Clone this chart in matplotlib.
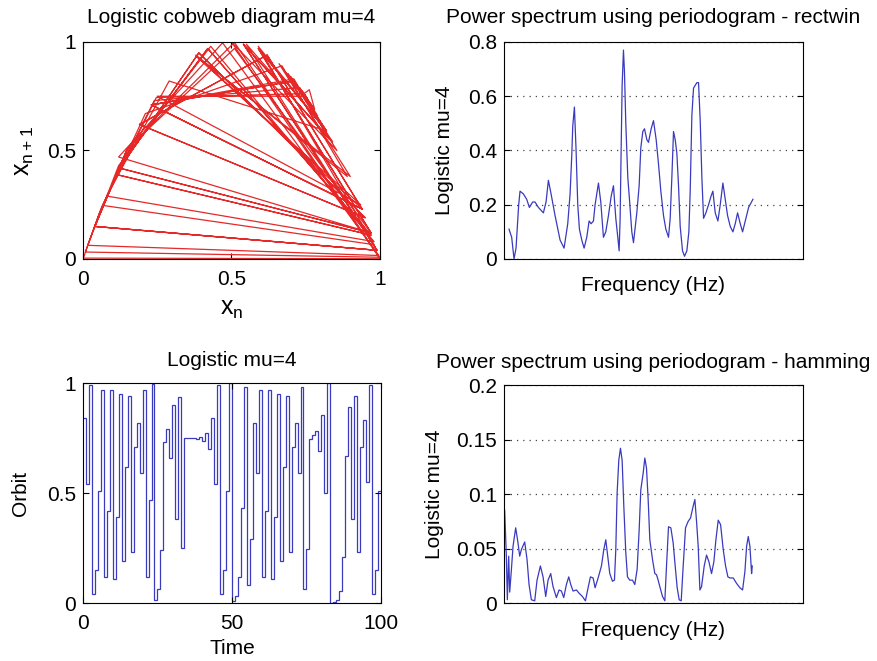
import matplotlib
matplotlib.use('Agg')
import matplotlib.pyplot as plt
import numpy as np

plt.rcParams['font.family'] = ['Liberation Sans', 'DejaVu Sans']
plt.rcParams['font.size'] = 15

# orbit of the logistic map (one value per time step)
orbit = [0.84, 0.54, 0.99, 0.04, 0.15, 0.51, 0.97, 0.12, 0.42, 0.97,
         0.11, 0.39, 0.95, 0.19, 0.62, 0.94, 0.23, 0.71, 0.82, 0.59,
         0.97, 0.12, 0.47, 0.996, 0.016, 0.063, 0.24, 0.73, 0.79, 0.66,
         0.90, 0.38, 0.935, 0.25, 0.750, 0.750, 0.749, 0.751, 0.747, 0.756,
         0.738, 0.774, 0.70, 0.84, 0.54, 0.99, 0.04, 0.15, 0.51, 0.998,
         0.008, 0.032, 0.12, 0.43, 0.98, 0.08, 0.29, 0.82, 0.59, 0.97,
         0.12, 0.42, 0.97, 0.11, 0.39, 0.95, 0.19, 0.62, 0.94, 0.23,
         0.71, 0.82, 0.59, 0.98, 0.066, 0.247, 0.744, 0.762, 0.78, 0.69,
         0.855, 0.50, 1.00, 0.001, 0.004, 0.014, 0.055, 0.21, 0.67, 0.89,
         0.38, 0.94, 0.23, 0.71, 0.83, 0.55, 0.99, 0.04, 0.15, 0.51]
time_edges = np.arange(len(orbit) + 1)

# periodogram, rectangular window (frequency in bins of a 896-bin axis)
nbins = 896
freq_rect = [15, 23, 30, 36, 40, 44, 48, 58, 68, 76, 86, 93, 103, 118, 126, 133,
             141, 153, 168, 180, 191, 198, 203, 206, 211, 216, 221, 226, 233, 240,
             248, 255, 261, 268, 273, 283, 290, 298, 305, 313, 321, 328, 335, 341,
             345, 348, 351, 354, 358, 361, 365, 371, 376, 383, 388, 398, 405, 410,
             416, 421, 428, 433, 441, 448, 456, 463, 470, 478, 485, 493, 498, 503,
             508, 513, 518, 523, 528, 535, 541, 548, 554, 558, 563, 568, 578, 583,
             588, 593, 598, 605, 613, 620, 626, 633, 641, 648, 656, 663, 670, 678,
             686, 693, 700, 708, 715, 723, 733, 746]
pow_rect = [0.11, 0.08, 0.0, 0.04, 0.12, 0.20, 0.25, 0.24, 0.22, 0.19, 0.21, 0.21,
            0.19, 0.17, 0.21, 0.29, 0.24, 0.16, 0.07, 0.04, 0.13, 0.24, 0.38, 0.49,
            0.56, 0.40, 0.20, 0.11, 0.07, 0.04, 0.08, 0.14, 0.13, 0.14, 0.20, 0.28,
            0.21, 0.08, 0.10, 0.16, 0.23, 0.27, 0.15, 0.08, 0.03, 0.15, 0.40, 0.64,
            0.77, 0.69, 0.50, 0.30, 0.22, 0.10, 0.06, 0.17, 0.27, 0.41, 0.47, 0.48,
            0.44, 0.43, 0.48, 0.51, 0.44, 0.35, 0.25, 0.16, 0.11, 0.08, 0.15, 0.30,
            0.47, 0.44, 0.39, 0.27, 0.12, 0.03, 0.01, 0.03, 0.10, 0.25, 0.53, 0.63,
            0.65, 0.65, 0.51, 0.30, 0.15, 0.17, 0.20, 0.23, 0.25, 0.17, 0.14, 0.20,
            0.28, 0.22, 0.16, 0.12, 0.10, 0.13, 0.17, 0.13, 0.10, 0.14, 0.19, 0.22]

# periodogram, hamming window
freq_ham = [2, 7, 10, 14, 17, 22, 27, 35, 42, 47, 52, 62, 69, 75, 82, 92, 99, 109,
            117, 125, 132, 140, 147, 157, 165, 172, 179, 187, 194, 200, 207, 217,
            225, 235, 244, 252, 259, 267, 273, 282, 292, 299, 305, 312, 317, 325,
            331, 335, 339, 344, 349, 354, 359, 365, 370, 377, 385, 392, 399, 405,
            410, 417, 422, 427, 432, 437, 445, 452, 457, 462, 467, 475, 482, 487,
            493, 500, 507, 513, 519, 525, 531, 537, 544, 552, 559, 567, 572, 577,
            582, 587, 592, 600, 607, 614, 622, 629, 635, 642, 649, 657, 664, 671,
            677, 687, 697, 707, 715, 722, 727, 732, 737, 742, 744]
pow_ham = [0.085, 0.043, 0.003, 0.043, 0.010, 0.030, 0.052, 0.069, 0.055, 0.043,
           0.049, 0.056, 0.040, 0.017, 0.003, 0.002, 0.021, 0.034, 0.024, 0.006,
           0.021, 0.027, 0.015, 0.005, 0.012, 0.011, 0.005, 0.017, 0.024, 0.017,
           0.011, 0.012, 0.009, 0.006, 0.002, 0.014, 0.024, 0.023, 0.014, 0.023,
           0.034, 0.049, 0.058, 0.040, 0.027, 0.020, 0.021, 0.049, 0.101, 0.131,
           0.142, 0.131, 0.089, 0.046, 0.024, 0.021, 0.021, 0.017, 0.031, 0.067,
           0.104, 0.119, 0.133, 0.124, 0.095, 0.058, 0.040, 0.027, 0.026, 0.021,
           0.015, 0.006, 0.002, 0.034, 0.070, 0.069, 0.055, 0.034, 0.014, 0.003,
           0.002, 0.034, 0.069, 0.075, 0.078, 0.089, 0.095, 0.075, 0.052, 0.012,
           0.015, 0.034, 0.044, 0.038, 0.027, 0.038, 0.058, 0.076, 0.072, 0.049,
           0.034, 0.024, 0.023, 0.023, 0.018, 0.014, 0.012, 0.029, 0.052, 0.061,
           0.052, 0.027, 0.034]

red = '#e62828'
blue = '#3a3abf'
lw = 0.9

fig = plt.figure(figsize=(8.77, 6.61), dpi=100)
ax1 = fig.add_axes([0.0946, 0.6082, 0.3387, 0.3283])
ax2 = fig.add_axes([0.5747, 0.6082, 0.3409, 0.3283])
ax3 = fig.add_axes([0.0946, 0.0877, 0.3398, 0.3328])
ax4 = fig.add_axes([0.5747, 0.0877, 0.3409, 0.3298])

for ax in (ax1, ax2, ax3, ax4):
    ax.tick_params(direction='in', top=True, right=True, length=4, labelsize=15)
    ax.tick_params(axis='x', pad=8)
    ax.tick_params(axis='y', pad=5)
    for s in ax.spines.values():
        s.set_linewidth(0.8)

# cobweb: consecutive pairs (x_n, x_n+1)
ax1.plot(orbit[:-1], orbit[1:], color=red, lw=lw)
ax1.set_xlim(0, 1)
ax1.set_ylim(0, 1)
ax1.set_xticks([0, 0.5, 1])
ax1.set_xticklabels(['0', '0.5', '1'])
ax1.set_yticks([0, 0.5, 1])
ax1.set_yticklabels(['0', '0.5', '1'])
ax1.set_title('Logistic cobweb diagram mu=4', fontsize=15, pad=14)
ax1.set_xlabel('$\\mathregular{x_n}$', fontsize=18, labelpad=6)
ax1.set_ylabel('$\\mathregular{x_{n+1}}$', fontsize=18, labelpad=8)

ax2.plot(freq_rect, pow_rect, color=blue, lw=lw)
ax2.set_xlim(0, nbins)
ax2.set_ylim(0, 0.8)
ax2.set_xticks([])
ax2.set_yticks([0, 0.2, 0.4, 0.6, 0.8])
ax2.set_yticklabels(['0', '0.2', '0.4', '0.6', '0.8'])
ax2.yaxis.grid(True, linestyle=(0, (1, 4)), color='#444444', lw=0.9)
ax2.set_title('Power spectrum using periodogram - rectwin', fontsize=15, pad=14)
ax2.set_xlabel('Frequency (Hz)', fontsize=15, labelpad=12)
ax2.set_ylabel('Logistic mu=4', fontsize=15, labelpad=10)

ax3.stairs(orbit, time_edges, baseline=None, color=blue, lw=lw)
ax3.set_xlim(0, 100)
ax3.set_ylim(0, 1)
ax3.set_xticks([0, 50, 100])
ax3.set_yticks([0, 0.5, 1])
ax3.set_yticklabels(['0', '0.5', '1'])
ax3.set_title('Logistic mu=4', fontsize=15, pad=12)
ax3.set_xlabel('Time', fontsize=15, labelpad=4)
ax3.set_ylabel('Orbit', fontsize=15, labelpad=12)

ax4.plot(freq_ham, pow_ham, color=blue, lw=lw)
ax4.set_xlim(0, nbins)
ax4.set_ylim(0, 0.2)
ax4.set_xticks([])
ax4.set_yticks([0, 0.05, 0.1, 0.15, 0.2])
ax4.set_yticklabels(['0', '0.05', '0.1', '0.15', '0.2'])
ax4.yaxis.grid(True, linestyle=(0, (1, 4)), color='#444444', lw=0.9)
ax4.set_title('Power spectrum using periodogram - hamming', fontsize=15, pad=12)
ax4.set_xlabel('Frequency (Hz)', fontsize=15, labelpad=13)
ax4.set_ylabel('Logistic mu=4', fontsize=15, labelpad=9)

fig.savefig('out.png', dpi=100)
